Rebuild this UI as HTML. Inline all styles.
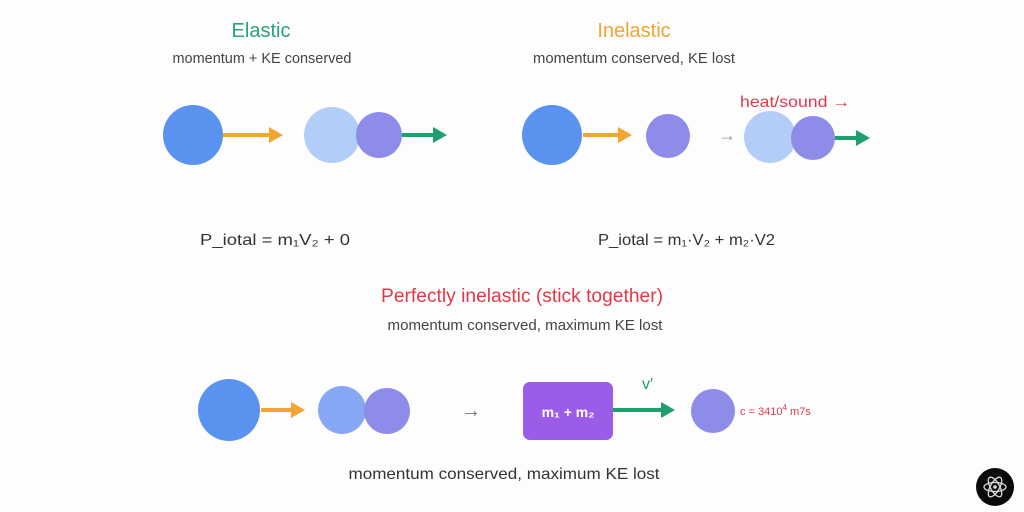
<!DOCTYPE html>
<html><head><meta charset="utf-8"><style>
html,body{margin:0;padding:0;background:#fdfdfd;}
svg{display:block;}
text{font-family:"Liberation Sans","DejaVu Sans",sans-serif;}
</style></head><body>
<svg width="1024" height="512" viewBox="0 0 1024 512" xmlns="http://www.w3.org/2000/svg">
<defs>
<marker id="ao" markerWidth="4" markerHeight="4" refX="2.5" refY="2" orient="auto" markerUnits="strokeWidth"><path d="M0,0 L3.5,2 L0,4 z" fill="#f2a533"/></marker>
<marker id="ag" markerWidth="4" markerHeight="4" refX="2.5" refY="2" orient="auto" markerUnits="strokeWidth"><path d="M0,0 L3.5,2 L0,4 z" fill="#1f9e6e"/></marker>
</defs>
<rect width="1024" height="512" fill="#fdfdfd"/>
<!-- Elastic -->
<text x="261" y="37" font-size="20" fill="#2aa37a" text-anchor="middle">Elastic</text>
<text x="262" y="63" font-size="15" fill="#444" text-anchor="middle" textLength="179" lengthAdjust="spacingAndGlyphs">momentum + KE conserved</text>
<circle cx="193" cy="135" r="30" fill="#5a93ef"/>
<line x1="223" y1="135" x2="279" y2="135" stroke="#f2a533" stroke-width="4" marker-end="url(#ao)"/>
<circle cx="332" cy="135" r="28" fill="#b2cdf7"/>
<circle cx="379" cy="135" r="23" fill="#8e8ce9"/>
<line x1="402" y1="135" x2="443" y2="135" stroke="#1f9e6e" stroke-width="4" marker-end="url(#ag)"/>
<text x="200" y="245" font-size="16" fill="#333" textLength="150" lengthAdjust="spacingAndGlyphs">P_iotal = m₁V₂ + 0</text>
<!-- Inelastic -->
<text x="634" y="37" font-size="20" fill="#f2a533" text-anchor="middle">Inelastic</text>
<text x="634" y="63" font-size="15" fill="#444" text-anchor="middle" textLength="202" lengthAdjust="spacingAndGlyphs">momentum conserved, KE lost</text>
<circle cx="552" cy="135" r="30" fill="#5a93ef"/>
<line x1="583" y1="135" x2="628" y2="135" stroke="#f2a533" stroke-width="4" marker-end="url(#ao)"/>
<circle cx="668" cy="136" r="22" fill="#8e8ce9"/>
<text x="718" y="141" font-size="18" fill="#999">→</text>
<text x="740" y="107" font-size="16" fill="#e0394a" textLength="110" lengthAdjust="spacingAndGlyphs">heat/sound →</text>
<circle cx="770" cy="137" r="26" fill="#b2cdf7"/>
<circle cx="813" cy="138" r="22" fill="#8e8ce9"/>
<line x1="835" y1="138" x2="866" y2="138" stroke="#1f9e6e" stroke-width="4" marker-end="url(#ag)"/>
<text x="598" y="245" font-size="16" fill="#333" textLength="177" lengthAdjust="spacingAndGlyphs">P_iotal = m₁·V₂ + m₂·V2</text>
<!-- Perfectly inelastic -->
<text x="522" y="302" font-size="19" fill="#e0394a" text-anchor="middle" textLength="282" lengthAdjust="spacingAndGlyphs">Perfectly inelastic (stick together)</text>
<text x="525" y="330" font-size="15" fill="#444" text-anchor="middle" textLength="275" lengthAdjust="spacingAndGlyphs">momentum conserved, maximum KE lost</text>
<circle cx="229" cy="410" r="31" fill="#5a93ef"/>
<line x1="261" y1="410" x2="301" y2="410" stroke="#f2a533" stroke-width="4" marker-end="url(#ao)"/>
<circle cx="342" cy="410" r="24" fill="#86a8f4"/>
<circle cx="387" cy="411" r="23" fill="#8e8ce9"/>
<text x="461" y="417" font-size="20" fill="#777">→</text>
<rect x="523" y="382" width="90" height="58" rx="7" fill="#9b5de8"/>
<text x="568" y="417" font-size="14" font-weight="bold" fill="#fff" text-anchor="middle">m₁ + m₂</text>
<line x1="613" y1="410" x2="671" y2="410" stroke="#1f9e6e" stroke-width="4" marker-end="url(#ag)"/>
<text x="642" y="389" font-size="16" fill="#1f9e6e">v′</text>
<circle cx="713" cy="411" r="22" fill="#8e8ce9"/>
<text x="740" y="415" font-size="11" fill="#e0394a">c = 3410<tspan font-size="8" dy="-5">4</tspan><tspan dy="5"> m7s</tspan></text>
<text x="504" y="479" font-size="16" fill="#333" text-anchor="middle" textLength="311" lengthAdjust="spacingAndGlyphs">momentum conserved, maximum KE lost</text>
<!-- logo -->
<circle cx="995" cy="487" r="19" fill="#0a0a0a"/>
<g stroke="#ddd" stroke-width="1.3" fill="none">
<ellipse cx="995" cy="487" rx="11" ry="4.5"/>
<ellipse cx="995" cy="487" rx="11" ry="4.5" transform="rotate(60 995 487)"/>
<ellipse cx="995" cy="487" rx="11" ry="4.5" transform="rotate(-60 995 487)"/>
</g>
<circle cx="995" cy="487" r="1.8" fill="#ddd"/>
</svg>
</body></html>
